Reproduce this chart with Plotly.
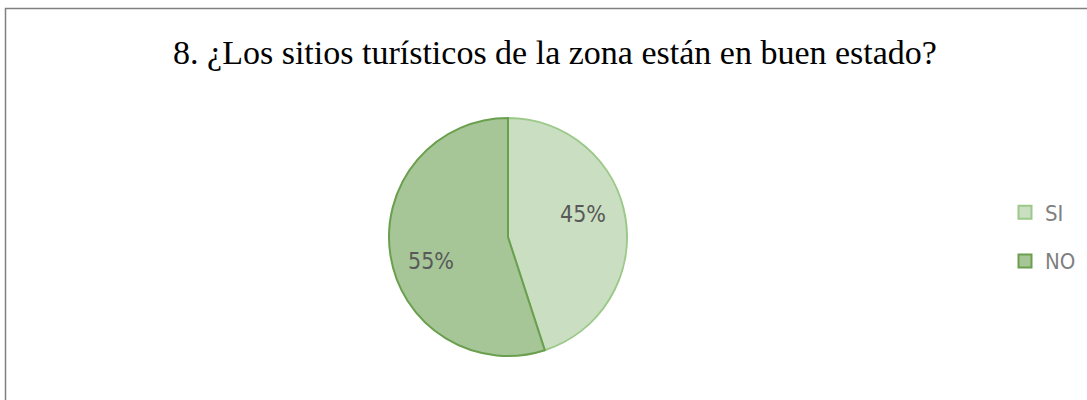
import math
import plotly.graph_objects as go

labels = ["SI", "NO"]
values = [45, 55]
fill_colors = ["#cadfc1", "#a6c697"]
line_colors = ["#9cc98a", "#6a9f4e"]
title_text = "8. ¿Los sitios turísticos de la zona están en buen estado?"

W, H = 1087, 400
cx, cy, r = 508, 237, 119
label_radius = [0.66, 0.68]
label_angle_shift = 8
narrow = "DejaVu Sans Condensed, Liberation Sans Narrow, Arial Narrow, Liberation Sans"

fig = go.Figure()
fig.add_trace(go.Pie(
    labels=labels, values=values, sort=False, direction="clockwise", rotation=0,
    marker=dict(colors=fill_colors, line=dict(color=line_colors, width=2)),
    textinfo="none", showlegend=False,
    domain=dict(x=[(cx - r) / W, (cx + r) / W], y=[1 - (cy + r) / H, 1 - (cy - r) / H]),
    hoverinfo="label+percent",
))

# legend entries (square markers)
for lab, fc, lc in zip(labels, fill_colors, line_colors):
    fig.add_trace(go.Scatter(
        x=[None], y=[None], mode="markers", name=lab, legendgroup=lab,
        marker=dict(symbol="square", size=13, color=fc, line=dict(color=lc, width=2)),
    ))

# percentage labels placed from the slice angles
total = sum(values)
annotations = []
cum = 0
for i, v in enumerate(values):
    mid = (cum + v / 2) / total * 360 - label_angle_shift
    cum += v
    d = label_radius[i] * r
    px = cx + d * math.sin(math.radians(mid))
    py = cy - d * math.cos(math.radians(mid))
    annotations.append(dict(
        x=px / W, y=1 - py / H, xref="paper", yref="paper", showarrow=False,
        text=f"{round(v / total * 100)}%", xanchor="center", yanchor="middle",
        font=dict(family=narrow, size=23, color="#595959"),
    ))

fig.update_layout(
    width=W, height=H, margin=dict(l=0, r=0, t=0, b=0),
    paper_bgcolor="white", plot_bgcolor="white",
    xaxis=dict(visible=False), yaxis=dict(visible=False),
    title=dict(text=title_text, x=555 / W, xanchor="center", y=1 - 52 / H, yanchor="middle",
               font=dict(family="Liberation Serif, Times New Roman, serif", size=34, color="#000000")),
    legend=dict(x=1005 / W, xanchor="left", y=1 - 237 / H, yanchor="middle",
                font=dict(family=narrow, size=22, color="#7f7f7f"),
                itemsizing="trace", tracegroupgap=17, bgcolor="rgba(0,0,0,0)"),
    annotations=annotations,
    shapes=[dict(type="rect", xref="paper", yref="paper", x0=5.5 / W, x1=1.05, y0=-0.05, y1=1 - 8.5 / H,
                 line=dict(color="#808080", width=1.5), fillcolor="rgba(0,0,0,0)", layer="below")],
)

fig.write_html("out.html", config={"displayModeBar": False},
               post_script="document.body.style.margin='0';")
